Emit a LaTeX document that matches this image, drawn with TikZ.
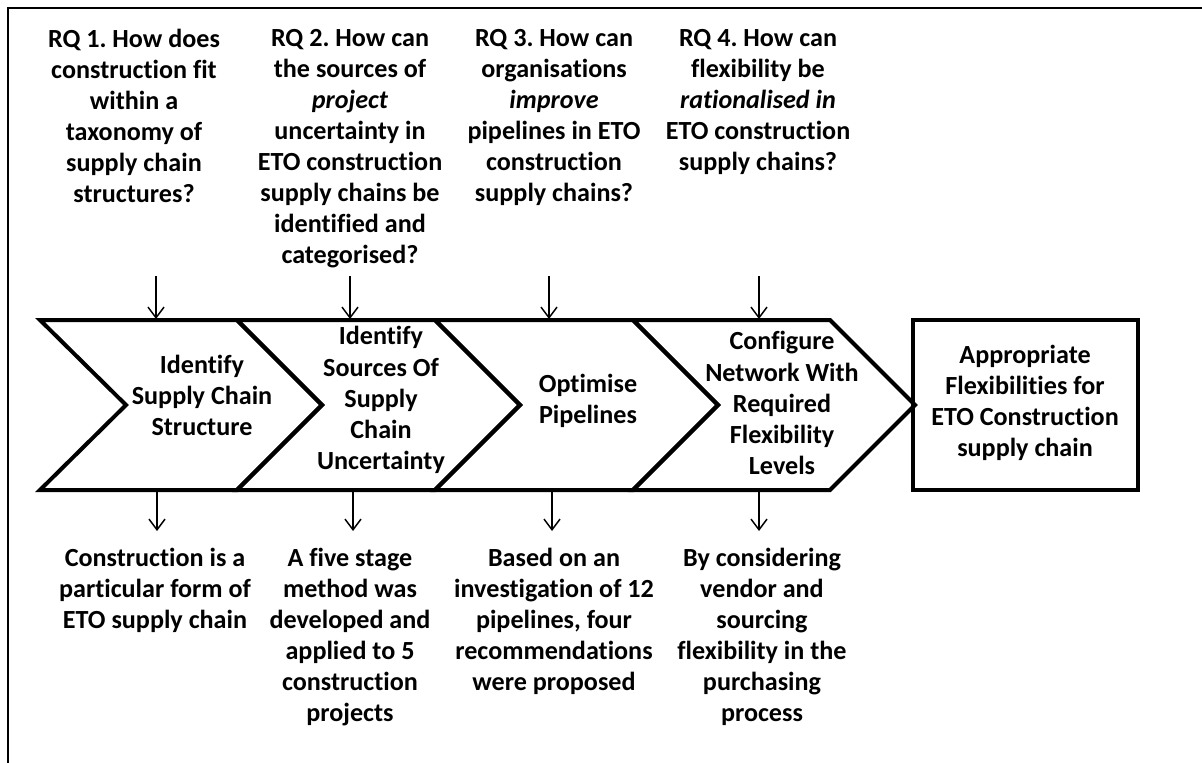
\documentclass[tikz,border=0pt]{standalone}
\usepackage{fontspec}
\setmainfont{Carlito}[Ligatures=NoCommon]
\usetikzlibrary{arrows.meta}
\begin{document}
\frenchspacing
\begin{tikzpicture}[x=0.75pt,y=-0.75pt,
  txt/.style={align=center, inner sep=0pt, font=\fontsize{19.6}{23.3}\selectfont\bfseries},
  chev/.style={draw, line width=3pt, line join=miter},
  arr/.style={line width=1.1pt, -{Straight Barb[length=8pt,width=12pt,line width=1.1pt]}},
  frame/.style={line width=2.2pt},
  outbox/.style={draw, line width=3pt, minimum width=168.75pt, minimum height=127.5pt, inner sep=0pt}]
\useasboundingbox (0,0) rectangle (1202,763);
% page frame (top and left edges)
\draw[frame] (8,763) -- (8,8) -- (1202,8);

% research questions
\node[txt, anchor=north] (rq1) at (134,29) {RQ 1. How does\\construction fit\\within a\\taxonomy of\\supply chain\\structures?};
\node[txt, anchor=north] (rq2) at (350,29) {RQ 2. How can\\the sources of\\\textit{project}\\uncertainty in\\ETO construction\\supply chains be\\identified and\\categorised?};
\node[txt, anchor=north] (rq3) at (554,29) {RQ 3. How can\\organisations\\\textit{improve}\\pipelines in ETO\\construction\\supply chains?};
\node[txt, anchor=north] (rq4) at (758,29) {RQ 4. How can\\flexibility be\\\textit{rationalised in}\\ETO construction\\supply chains?};

% process chevrons
\draw[chev] (40,320) -- (237,320) -- (322,405) -- (237,490) -- (40,490) -- (126,405) -- cycle;
\draw[chev] (237,320) -- (435,320) -- (520,405) -- (435,490) -- (237,490) -- (322,405) -- cycle;
\draw[chev] (435,320) -- (633,320) -- (718,405) -- (633,490) -- (435,490) -- (520,405) -- cycle;
\draw[chev] (633,320) -- (830,320) -- (915,405) -- (830,490) -- (633,490) -- (718,405) -- cycle;

\node[txt] (s1) at (202,395) {Identify\\Supply Chain\\Structure};
\node[txt] (s2) at (381,400) {Identify\\Sources Of\\Supply\\Chain\\Uncertainty};
\node[txt] (s3) at (588,401) {Optimise\\Pipelines};
\node[txt] (s4) at (782,403) {Configure\\Network With\\Required\\Flexibility\\Levels};

% outcome box
\node[outbox] (res) at (1025.5,405) {};
\node[txt] (restxt) at (1025,403) {Appropriate\\Flexibilities for\\ETO Construction\\supply chain};

% findings
\node[txt, anchor=north] (f1) at (155,548) {Construction is a\\particular form of\\ETO supply chain};
\node[txt, anchor=north] (f2) at (350,548) {A five stage\\method was\\developed and\\applied to 5\\construction\\projects};
\node[txt, anchor=north] (f3) at (554,548) {Based on an\\investigation of 12\\pipelines, four\\recommendations\\were proposed};
\node[txt, anchor=north] (f4) at (762,548) {By considering\\vendor and\\sourcing\\flexibility in the\\purchasing\\process};

% arrow end points
\coordinate (q1) at (156,276); \coordinate (t1) at (156,319);
\coordinate (q2) at (350,276); \coordinate (t2) at (350,319);
\coordinate (q3) at (549,276); \coordinate (t3) at (549,319);
\coordinate (q4) at (759,276); \coordinate (t4) at (759,319);
\coordinate (b1) at (157,491); \coordinate (e1) at (157,531);
\coordinate (b2) at (353,491); \coordinate (e2) at (353,531);
\coordinate (b3) at (552,491); \coordinate (e3) at (552,531);
\coordinate (b4) at (759,491); \coordinate (e4) at (759,531);

\foreach \i in {1,...,4} {
  \draw[arr] (q\i) -- (t\i);
  \draw[arr] (b\i) -- (e\i);
}
\end{tikzpicture}
\end{document}
